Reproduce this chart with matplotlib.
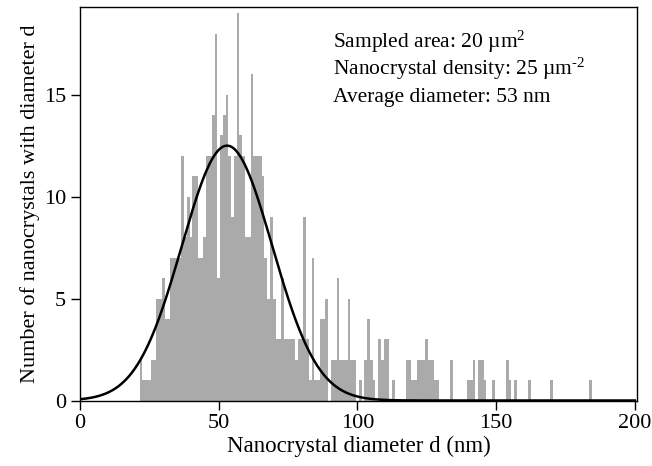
import numpy as np
import matplotlib
matplotlib.use('Agg')
import matplotlib.pyplot as plt

# histogram: 1 nm bins, centres 22..184 nm
diameter_nm = np.arange(22, 185)
counts = [
    2, 1, 1, 1, 2, 2, 5, 5, 6, 4,
    4, 7, 7, 7, 7, 12, 8, 10, 8, 11,
    11, 7, 7, 8, 12, 12, 14, 18, 6, 13,
    14, 15, 12, 9, 12, 19, 13, 12, 8, 8,
    16, 12, 12, 12, 11, 7, 5, 9, 5, 3,
    3, 6, 3, 3, 3, 3, 2, 3, 3, 9,
    3, 1, 7, 1, 1, 4, 4, 5, 0, 2,
    2, 6, 2, 2, 2, 5, 2, 2, 0, 1,
    0, 2, 4, 2, 1, 0, 3, 2, 3, 3,
    0, 1, 0, 0, 0, 0, 2, 2, 1, 1,
    2, 2, 2, 3, 2, 2, 1, 1, 0, 0,
    0, 0, 2, 0, 0, 0, 0, 0, 1, 1,
    2, 0, 2, 2, 1, 0, 0, 1, 0, 0,
    0, 0, 2, 1, 0, 1, 0, 0, 0, 0,
    1, 0, 0, 0, 0, 0, 0, 0, 1, 0,
    0, 0, 0, 0, 0, 0, 0, 0, 0, 0,
    0, 0, 1,
]

# gaussian fit parameters
fit_amp = 12.5
fit_mean = 53.0
fit_sigma = 16.3

info_lines = [
    r'Sampled area: 20 µm$\mathregular{^{2}}$',
    r'Nanocrystal density: 25 µm$\mathregular{^{\text{-}2}}$',
    'Average diameter: 53 nm',
]

plt.rcParams['font.family'] = ['Liberation Serif', 'DejaVu Serif']
plt.rcParams['mathtext.fontset'] = 'stix'

fig = plt.figure(figsize=(6.52, 4.66), dpi=100)
ax = fig.add_axes([80 / 652, 65.5 / 466, 557 / 652, 393.5 / 466])

ax.bar(diameter_nm, counts, width=1.0, color='#aaaaaa', linewidth=0, zorder=1)

xs = np.linspace(0, 200, 801)
ax.plot(xs, fit_amp * np.exp(-(xs - fit_mean) ** 2 / (2 * fit_sigma ** 2)),
        color='black', lw=1.8, zorder=2)

ax.set_xlim(0, 200.8)
ax.set_ylim(0, 19.3)
ax.set_xticks([0, 50, 100, 150, 200])
ax.set_yticks([0, 5, 10, 15])
ax.tick_params(direction='out', length=6.5, width=1, labelsize=16, colors='black')
for s in ax.spines.values():
    s.set_linewidth(1)

ax.set_xlabel('Nanocrystal diameter d (nm)', fontsize=16.5, labelpad=2)
ax.set_ylabel('Number of nanocrystals with diameter d', fontsize=16, labelpad=3)

for i, line in enumerate(info_lines):
    ax.text(0.455, 0.897 - i * 0.069, line, transform=ax.transAxes,
            fontsize=15.5, va='baseline', ha='left')

fig.savefig('out.png', dpi=100)
